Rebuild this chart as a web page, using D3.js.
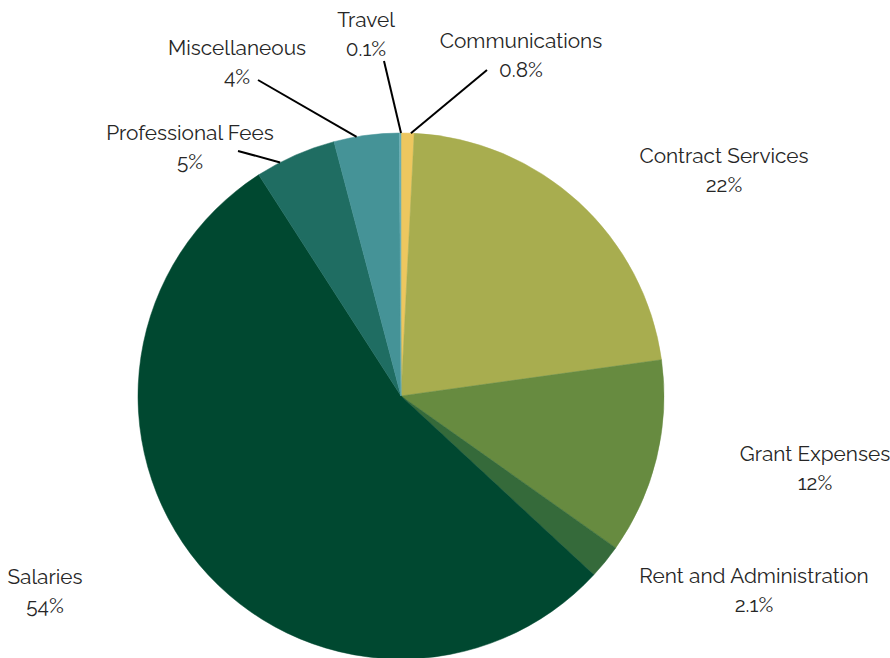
<!DOCTYPE html>
<html><head><meta charset="utf-8">
<script src="https://cdn.jsdelivr.net/npm/d3@7/dist/d3.min.js"></script>
<style>body{margin:0;background:#fff}svg{display:block}</style>
</head><body>
<svg id="chart" width="890" height="658"></svg>
<script>
const categories = ["Communications","Contract Services","Grant Expenses","Rent and Administration","Salaries","Professional Fees","Miscellaneous","Travel"];
const values = [0.8, 22, 12, 2.1, 54, 5, 4, 0.1];
const valueLabels = ["0.8%","22%","12%","2.1%","54%","5%","4%","0.1%"];
const colors = ["#EDC75F","#A8AD4F","#678B40","#356A3A","#004830","#1F6D62","#459397","#6AAFB5"];

// layout (not data)
const cx = 401, cy = 396, R = 263;
const labelPos = {
  "Communications":[521,41],
  "Contract Services":[724,156],
  "Grant Expenses":[815,454],
  "Rent and Administration":[754,576],
  "Salaries":[45,577],
  "Professional Fees":[190,133],
  "Miscellaneous":[237,48],
  "Travel":[366,20]
};
// leader line: start point, and where along the slice's outer edge it ends (0..1)
const leader = {
  "Communications":{start:[487,70], t:0.75},
  "Professional Fees":{start:[238,151], t:0.3},
  "Miscellaneous":{start:[258,80], t:0.35},
  "Travel":{start:[384,61], t:1.0}
};

const svg = d3.select("#chart");
const g = svg.append("g").attr("transform",`translate(${cx},${cy})`);
const data = categories.map((c,i)=>({name:c,value:values[i],label:valueLabels[i],color:colors[i]}));
const pie = d3.pie().value(d=>d.value).sort(null);
const arc = d3.arc().innerRadius(0).outerRadius(R);
const arcs = pie(data);
g.selectAll("path").data(arcs).join("path")
  .attr("d",arc).attr("fill",d=>d.data.color)
  .attr("stroke",d=>d.data.color).attr("stroke-width",0.5);

// leader lines
arcs.forEach(a=>{
  const L = leader[a.data.name];
  if(!L) return;
  const ang = a.startAngle + (a.endAngle - a.startAngle) * L.t;
  const ex = cx + R * Math.sin(ang), ey = cy - R * Math.cos(ang);
  svg.append("line").attr("x1",L.start[0]).attr("y1",L.start[1])
    .attr("x2",ex).attr("y2",ey)
    .attr("stroke","#000").attr("stroke-width",2);
});

const font = "Raleway, Lato, 'Open Sans', sans-serif";
arcs.forEach(a=>{
  const p = labelPos[a.data.name];
  const t = svg.append("text").attr("text-anchor","middle")
    .attr("font-family",font).attr("font-size",20.8).attr("fill","#262626");
  t.append("tspan").attr("x",p[0]).attr("y",p[1]).attr("dy","0.35em").text(a.data.name);
  t.append("tspan").attr("x",p[0]).attr("y",p[1]+29).attr("dy","0.35em").text(a.data.label);
});
</script>
</body></html>
